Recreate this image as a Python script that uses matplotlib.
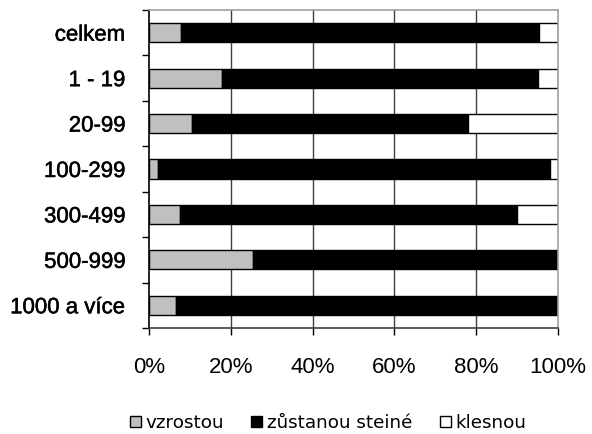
import numpy as np
import matplotlib
matplotlib.use('Agg')
import matplotlib.pyplot as plt
import matplotlib.patheffects as pe
from matplotlib.ticker import FixedLocator, FuncFormatter

categories = ['celkem', '1 - 19', '20-99', '100-299', '300-499', '500-999', '1000 a více']
vzrostou = [7.8, 17.9, 10.6, 2.1, 7.5, 25.4, 6.5]
stejne = [87.6, 77.1, 67.5, 96.0, 82.5, 74.6, 93.5]
klesnou = [4.6, 5.0, 21.9, 1.9, 10.0, 0.0, 0.0]
series_names = ['vzrostou', 'zůstanou steiné', 'klesnou']

plt.rcParams['font.family'] = ['Liberation Sans', 'DejaVu Sans']

fig = plt.figure(figsize=(5.92, 4.34), dpi=100)
ax = fig.add_axes([149/592, 1 - 328/434, 409/592, 318/434])

y = np.arange(len(categories))
h = 0.42
v = np.array(vzrostou)
s = np.array(stejne)
k = np.array(klesnou)

# gridlines first
for gx in [20, 40, 60, 80]:
    ax.axvline(gx, color='#404040', lw=1, zorder=0)

b1 = ax.barh(y, v, h, color='#c0c0c0', edgecolor='black', lw=1, label=series_names[0], zorder=2)
b2 = ax.barh(y, s, h, left=v, color='black', edgecolor='black', lw=1, label=series_names[1], zorder=2)
b3 = ax.barh(y, k, h, left=v + s, color='white', edgecolor='black', lw=1, label=series_names[2], zorder=2)

ax.set_xlim(0, 100)
ax.set_ylim(len(categories) - 0.5, -0.5)

ax.set_xticks([0, 20, 40, 60, 80, 100])
ax.xaxis.set_major_formatter(FuncFormatter(lambda x, p: f'{int(x)}%'))
ax.tick_params(axis='x', length=5, width=1, direction='out', pad=16, labelsize=16, color='black')

ax.set_yticks(y)
ax.set_yticklabels(categories, fontsize=16)
# category labels look a bit heavier than the % labels
for t in ax.get_yticklabels():
    t.set_path_effects([pe.withStroke(linewidth=0.35, foreground='black')])
ax.yaxis.set_minor_locator(FixedLocator(np.arange(-0.5, len(categories), 1.0)))
ax.tick_params(axis='y', which='major', length=0, pad=17)
ax.tick_params(axis='y', which='minor', length=5, width=1, direction='out', color='black')

ax.spines['left'].set_color('black')
ax.spines['bottom'].set_color('#404040')
ax.spines['top'].set_color('#a0a0a0')
ax.spines['right'].set_color('#a0a0a0')
for sp in ax.spines.values():
    sp.set_linewidth(1.2)

fig.legend(handles=[b1, b2, b3], labels=series_names, loc='center', bbox_to_anchor=(328/592, 1 - 423/434),
           ncol=3, frameon=False, handlelength=0.6, handleheight=0.6, handletextpad=0.25,
           columnspacing=1.5, borderpad=0, prop={'family': 'DejaVu Sans', 'size': 13.2})

fig.savefig('out.png', dpi=100)
